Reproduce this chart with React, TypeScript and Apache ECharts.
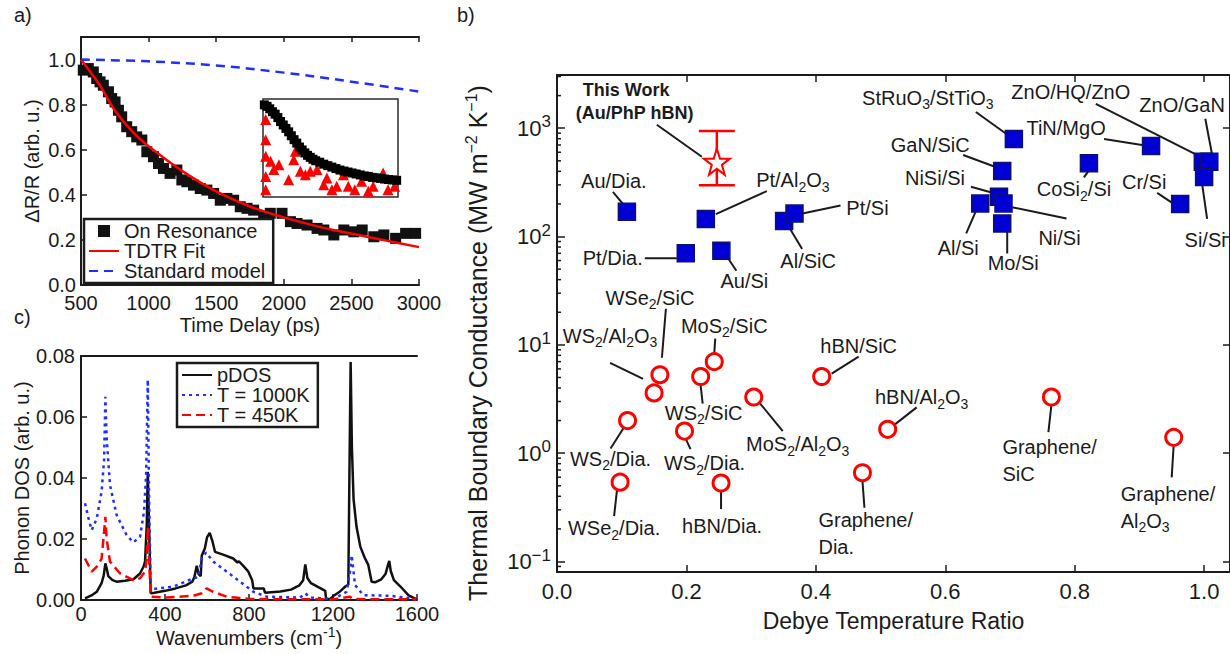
import React, { useEffect, useRef } from "react";
import * as echarts from "echarts";

const FONT = "'Liberation Sans', Arial, Helvetica, sans-serif";
const INK = "#1b1b1b";
const RED = "#ff0000";
const BLUE = "#1f2fff";

// ===== panel a : time-domain data =====
const TIME_PS = [517, 554, 591, 616, 641, 665, 703, 727, 752, 777, 801, 838, 875, 912, 950, 987, 1036, 1073, 1110, 1159, 1209, 1246, 1283, 1332, 1382, 1431, 1481, 1530, 1579, 1629, 1678, 1728, 1777, 1851, 1900, 1987, 2049, 2098, 2172, 2246, 2296, 2370, 2444, 2518, 2580, 2666, 2740, 2827, 2901, 2975];
const ON_RESONANCE = [0.953, 0.96, 0.945, 0.916, 0.901, 0.886, 0.857, 0.827, 0.812, 0.775, 0.746, 0.702, 0.68, 0.657, 0.643, 0.591, 0.569, 0.539, 0.517, 0.495, 0.51, 0.466, 0.458, 0.443, 0.428, 0.421, 0.406, 0.376, 0.384, 0.376, 0.347, 0.34, 0.332, 0.303, 0.318, 0.318, 0.281, 0.273, 0.266, 0.251, 0.244, 0.222, 0.244, 0.236, 0.244, 0.214, 0.222, 0.207, 0.229, 0.229];
const FIT_PS = [500, 640, 750, 880, 1000, 1250, 1500, 1750, 2000, 2250, 2500, 2750, 3000];
const FIT_DR = [1.0, 0.885, 0.775, 0.68, 0.615, 0.505, 0.415, 0.348, 0.3, 0.26, 0.228, 0.198, 0.168];
const STD_PS = [500, 1000, 1500, 2000, 2500, 3000];
const STD_DR = [1.0, 0.992, 0.974, 0.942, 0.902, 0.858];
const TIME_AXIS = { min: 500, max: 3000, step: 500 };
const DR_AXIS = { min: 0, max: 1.1, step: 0.2 };

// inset (normalised units)
const INSET_T = [0.01, 0.03, 0.05, 0.07, 0.09, 0.11, 0.13, 0.15, 0.17, 0.19, 0.21, 0.23, 0.25, 0.27, 0.29, 0.31, 0.33, 0.35, 0.37, 0.39, 0.42, 0.45, 0.48, 0.51, 0.54, 0.57, 0.6, 0.63, 0.66, 0.69, 0.72, 0.75, 0.78, 0.81, 0.84, 0.87, 0.9, 0.93, 0.96, 0.99];
const INSET_ON = [0.94, 0.925, 0.9, 0.87, 0.845, 0.81, 0.77, 0.735, 0.7, 0.665, 0.625, 0.585, 0.55, 0.51, 0.48, 0.45, 0.425, 0.405, 0.385, 0.37, 0.355, 0.335, 0.32, 0.305, 0.29, 0.275, 0.265, 0.255, 0.245, 0.235, 0.225, 0.215, 0.21, 0.2, 0.195, 0.19, 0.183, 0.178, 0.174, 0.17];
const INSET_T_OFF = [0.02, 0.02, 0.02, 0.02, 0.02, 0.056, 0.08, 0.118, 0.19, 0.228, 0.24, 0.277, 0.314, 0.35, 0.4, 0.45, 0.473, 0.51, 0.546, 0.596, 0.632, 0.68, 0.73, 0.78, 0.816, 0.89, 0.926, 0.975];
const INSET_OFF = [0.79, 0.585, 0.415, 0.21, 0.075, 0.364, 0.28, 0.33, 0.177, 0.38, 0.466, 0.262, 0.228, 0.262, 0.28, 0.126, 0.194, 0.075, 0.109, 0.228, 0.109, 0.075, 0.16, 0.058, 0.109, 0.245, 0.075, 0.109];

// ===== panel c : phonon DOS =====
const WN_PDOS = [19, 50, 75, 98, 108, 116, 122, 130, 150, 170, 210, 250, 281, 298, 305, 313, 318, 324, 332, 350, 400, 450, 500, 530, 540, 551, 560, 570, 575, 590, 600, 613, 625, 638, 680, 725, 745, 752, 775, 797, 815, 821, 870, 876, 950, 1000, 1040, 1058, 1068, 1078, 1095, 1130, 1163, 1167, 1185, 1200, 1230, 1260, 1273, 1278, 1284, 1290, 1298, 1312, 1330, 1350, 1368, 1384, 1400, 1430, 1450, 1462, 1468, 1475, 1490, 1520, 1560, 1598];
const PDOS = [0.0005, 0.0015, 0.0027, 0.0055, 0.008, 0.012, 0.0105, 0.0078, 0.0065, 0.006, 0.0063, 0.0068, 0.0087, 0.011, 0.0126, 0.0245, 0.042, 0.0245, 0.0022, 0.0024, 0.003, 0.0038, 0.0048, 0.006, 0.0075, 0.0112, 0.0085, 0.0078, 0.0145, 0.017, 0.0205, 0.022, 0.0195, 0.0158, 0.0148, 0.0136, 0.0123, 0.0127, 0.011, 0.0093, 0.0065, 0.0038, 0.0038, 0.0024, 0.0028, 0.0034, 0.0048, 0.0065, 0.0117, 0.0072, 0.0055, 0.0042, 0.003, 0.0004, 0.0003, 0.0012, 0.0026, 0.0045, 0.005, 0.04, 0.078, 0.05, 0.033, 0.024, 0.0175, 0.014, 0.0115, 0.006, 0.0058, 0.0068, 0.0085, 0.0115, 0.0128, 0.0095, 0.0065, 0.0045, 0.0015, 0.0002];
const WN_1000K = [19, 35, 51, 75, 98, 110, 116, 122, 138, 170, 217, 249, 281, 300, 310, 318, 324, 332, 440, 535, 559, 575, 595, 630, 694, 757, 821, 884, 1043, 1068, 1090, 1202, 1265, 1281, 1289, 1305, 1344, 1471, 1598];
const DOS_1000K = [0.0317, 0.027, 0.0229, 0.0267, 0.0355, 0.046, 0.0666, 0.0535, 0.0377, 0.0278, 0.0213, 0.0189, 0.0207, 0.029, 0.041, 0.0722, 0.035, 0.0035, 0.0044, 0.0071, 0.0075, 0.0136, 0.0156, 0.0126, 0.0093, 0.006, 0.0027, 0.0011, 0.0008, 0.0022, 0.0008, 0.0003, 0.0027, 0.0093, 0.0147, 0.0049, 0.0016, 0.0014, 0.0003];
const WN_450K = [19, 51, 83, 98, 110, 116, 122, 138, 186, 249, 281, 305, 313, 318, 324, 332, 408, 535, 575, 598, 630, 694, 805, 1202, 1281, 1297, 1598];
const DOS_450K = [0.0136, 0.0093, 0.0115, 0.0136, 0.0224, 0.0273, 0.0202, 0.0126, 0.0087, 0.0065, 0.0071, 0.0093, 0.0136, 0.024, 0.0136, 0.0011, 0.0008, 0.0014, 0.0022, 0.0038, 0.0027, 0.0011, 0.0003, 0.0002, 0.0011, 0.0003, 0.0002];
const WN_AXIS = { min: 0, max: 1600, step: 400 };
const DOS_AXIS = { min: 0, max: 0.08, step: 0.02 };

// ===== panel b : thermal boundary conductance =====
const METAL_NAMES = ["Au/Dia.", "Pt/Al_2O_3", "Pt/Dia.", "Au/Si", "Al/SiC", "Pt/Si", "GaN/SiC", "StRuO_3/StTiO_3", "NiSi/Si", "Ni/Si", "Al/Si", "Mo/Si", "CoSi_2/Si", "TiN/MgO", "Cr/Si", "ZnO/HQ/ZnO", "ZnO/GaN", "Si/Si"];
const METAL_RATIO = [0.108, 0.23, 0.199, 0.254, 0.351, 0.367, 0.688, 0.706, 0.683, 0.69, 0.654, 0.688, 0.822, 0.918, 0.963, 0.998, 1.008, 1.0];
const METAL_TBC = [169, 145, 70, 74, 139, 163, 403, 796, 233, 202, 202, 132, 474, 685, 200, 490, 490, 355];
const VDW_NAMES = ["WSe_2/SiC", "WS_2/Al_2O_3", "MoS_2/SiC", "WS_2/SiC", "MoS_2/Al_2O_3", "hBN/SiC", "hBN/Al_2O_3", "WS_2/Dia.", "WS_2/Dia.", "WSe_2/Dia.", "hBN/Dia.", "Graphene/\nDia.", "Graphene/\nSiC", "Graphene/\nAl_2O_3"];
const VDW_RATIO = [0.159, 0.15, 0.243, 0.222, 0.304, 0.409, 0.511, 0.109, 0.197, 0.0975, 0.2535, 0.472, 0.764, 0.953];
const VDW_TBC = [5.3, 3.6, 7.0, 5.1, 3.3, 5.1, 1.66, 2.0, 1.6, 0.54, 0.53, 0.66, 3.3, 1.4];
const WORK_RATIO = [0.247];
const WORK_TBC = [490];
const WORK_LOW = [298];
const WORK_HIGH = [945];
const RATIO_AXIS = { min: 0, max: 1.04, step: 0.2 };
const TBC_AXIS = { min: 0.08, max: 3100 };
const LOG_MINOR_STEPS = [2, 3, 4, 5, 6, 7, 8, 9];
const LOG_DECADES = [-2, -1, 0, 1, 2, 3];

// label placement (pixel offsets from the marker: text centre d, align a, leader line l)
const METAL_LAYOUT = [
  { d: [-13, -31], l: [-14, -20, -4, -8] },
  { d: [87, -39], l: [10, -5, 61, -28] },
  { d: [-43, 5], a: "right", l: [-41, 5, -9, 5] },
  { d: [23, 30], l: [7, 8, 15, 20] },
  { d: [24, 40], l: [6, 8, 18, 28] },
  { d: [73, -6], l: [8, 0, 46, -8] },
  { d: [-72, -26], l: [-39, -16, -4, -3] },
  { d: [-86, -41], l: [-38, -27, -6, -4] },
  { d: [-64, -19], l: [-28, -10, -3, -3] },
  { d: [56, 35], l: [0, 2, 63, 15] },
  { d: [-22, 45], l: [-4, 7, -14, 30] },
  { d: [11, 40], l: [5, 7, 5, 30] },
  { d: [-15, 26], l: [0, 7, -5, 14] },
  { d: [-85, -18], l: [-47, -7, -9, -1] },
  { d: [-36, -22], l: [-23, -11, -8, -1] },
  { d: [-132, -70], l: [-107, -58, -8, -8] },
  { d: [-70, -57], a: "left", l: [-4, -43, 3, -6] },
  { d: [1, 63], l: [-2, 7, 3, 42] },
];
const VDW_LAYOUT = [
  { d: [-10, -77], l: [6, -66, 2, -17] },
  { d: [-44, -57], l: [-44, -30, -11, -14] },
  { d: [10, -36], l: [1, -23, 0, -8] },
  { d: [3, 36], l: [0, 9, 2, 27] },
  { d: [44, 47], l: [6, 6, 29, 34] },
  { d: [37, -31], l: [10, -3, 37, -20] },
  { d: [34, -32], l: [6, -4, 29, -22] },
  { d: [-17, 38], l: [-3, 6, -17, 28] },
  { d: [20, 32], l: [1, 7, 6, 18] },
  { d: [-6, 46], l: [-3, 7, -6, 34] },
  { d: [1, 43], l: [0, 7, 0, 26] },
  { d: [-44, 61], a: "left", l: [0, 8, 2, 35] },
  { d: [-49, 63], a: "left", l: [0, 8, -3, 35] },
  { d: [-53, 70], a: "left", l: [0, 7, -2, 40] },
];

const STAR = "path://M50 0 L61.8 35.1 L98.6 35.1 L68.9 57.3 L79.4 92.7 L50 71 L20.6 92.7 L31.1 57.3 L1.4 35.1 L38.2 35.1 Z";

const pairs = (xs: number[], ys: number[]) => xs.map((x, i) => [x, ys[i]]);

const richLabel = (s: string) =>
  s
    .split("\n")
    .map((line) =>
      line
        .split(/(_\d)/)
        .filter((t) => t.length > 0)
        .map((t) => (t.startsWith("_") ? `{s|${t.slice(1)}}` : `{n|${t}}`))
        .join("")
    )
    .join("\n");

const LABEL_RICH = {
  n: { fontSize: 20, lineHeight: 27, fontFamily: FONT, fill: INK, color: INK },
  s: { fontSize: 14, lineHeight: 12, verticalAlign: "bottom", fontFamily: FONT, fill: INK, color: INK },
};

const spine = { show: true, onZero: false, lineStyle: { color: INK, width: 2 } };
const tickIn = (len: number) => ({ show: true, inside: true, length: len, lineStyle: { color: INK, width: 1.5 } });
const plain = (v: number) => String(v);
const lbl = (size: number, margin: number, fmt: any = plain) => ({
  fontSize: size, margin, color: INK, fontFamily: FONT, lineHeight: 18, formatter: fmt,
});

function annotationSeries(ratios: number[], tbcs: number[], names: string[], layout: any[]) {
  return {
    type: "custom",
    xAxisIndex: 4,
    yAxisIndex: 2,
    z: 2,
    silent: true,
    data: pairs(ratios, tbcs),
    encode: { x: 0, y: 1 },
    renderItem: (params: any, api: any) => {
      const i = params.dataIndex;
      const L = layout[i];
      const p = api.coord([api.value(0), api.value(1)]);
      return {
        type: "group",
        children: [
          {
            type: "line",
            shape: { x1: p[0] + L.l[0], y1: p[1] + L.l[1], x2: p[0] + L.l[2], y2: p[1] + L.l[3] },
            style: { stroke: INK, lineWidth: 2 },
          },
          {
            type: "text",
            x: p[0] + L.d[0],
            y: p[1] + L.d[1],
            style: {
              text: richLabel(names[i]),
              rich: LABEL_RICH,
              align: L.a || "center",
              verticalAlign: "middle",
              fill: INK,
              fontSize: 20,
              fontFamily: FONT,
            },
          },
        ],
      };
    },
  };
}

export default function App() {
  const ref = useRef<HTMLDivElement>(null);

  useEffect(() => {
    if (!ref.current) return;
    const chart = echarts.init(ref.current, null, { renderer: "svg" });

    const minorVals = LOG_DECADES.flatMap((d) => LOG_MINOR_STEPS.map((m) => m * Math.pow(10, d))).filter(
      (v) => v > TBC_AXIS.min && v < TBC_AXIS.max
    );

    const logFmt = (v: number) => {
      const e = Math.log10(v);
      const r = Math.round(e);
      if (Math.abs(e - r) > 1e-6) return "";
      return `{b|10}{p|${r < 0 ? "\u2212" + -r : r}}`;
    };

    const legendBase = {
      orient: "vertical", itemGap: 0, itemWidth: 30, itemHeight: 12,
      padding: [2, 8, 2, 4], borderColor: INK, borderWidth: 2.5, backgroundColor: "#ffffff",
      textStyle: { fontSize: 20, lineHeight: 19, color: INK, fontFamily: FONT },
      selectedMode: false, symbolKeepAspect: true,
      itemStyle: { opacity: 0 },
    };

    const option: any = {
      animation: false,
      backgroundColor: "#ffffff",
      textStyle: { fontFamily: FONT, color: INK },
      grid: [
        { left: 81, top: 37, width: 338, height: 248 },
        { left: 81, top: 356, width: 336, height: 244 },
        { left: 557, top: 75, width: 674, height: 497 },
        { left: 263, top: 99, width: 135, height: 98, show: true, borderColor: "#2a2a2a", borderWidth: 1.5, backgroundColor: "#ffffff" },
      ],
      xAxis: [
        {
          gridIndex: 0, type: "value", min: TIME_AXIS.min, max: TIME_AXIS.max, interval: TIME_AXIS.step,
          axisLine: spine, axisTick: tickIn(6), splitLine: { show: false },
          axisLabel: lbl(20, 9),
          name: "Time Delay (ps)", nameLocation: "middle", nameGap: 30,
          nameTextStyle: { fontSize: 20, color: INK, fontFamily: FONT },
        },
        {
          gridIndex: 0, type: "value", position: "top", min: TIME_AXIS.min, max: TIME_AXIS.max, interval: TIME_AXIS.step,
          axisLine: spine, axisTick: tickIn(5), axisLabel: { show: false }, splitLine: { show: false },
        },
        {
          gridIndex: 1, type: "value", min: WN_AXIS.min, max: WN_AXIS.max, interval: WN_AXIS.step,
          axisLine: spine, axisTick: tickIn(6), splitLine: { show: false },
          axisLabel: lbl(20, 5),
          name: "{n|Wavenumbers (cm}{p|-1}{n|)}", nameLocation: "middle", nameGap: 24,
          nameTextStyle: {
            rich: {
              n: { fontSize: 20, lineHeight: 26, color: INK, fontFamily: FONT },
              p: { fontSize: 14, lineHeight: 12, verticalAlign: "top", color: INK, fontFamily: FONT },
            },
          },
        },
        {
          gridIndex: 1, type: "value", position: "top", min: WN_AXIS.min, max: WN_AXIS.max,
          axisLine: spine, axisTick: { show: false }, axisLabel: { show: false }, splitLine: { show: false },
        },
        {
          gridIndex: 2, type: "value", min: RATIO_AXIS.min, max: RATIO_AXIS.max, interval: RATIO_AXIS.step,
          axisLine: spine, axisTick: tickIn(7), splitLine: { show: false },
          axisLabel: { ...lbl(22, 10, (v: number) => v.toFixed(1)), showMaxLabel: false },
          name: "Debye Temperature Ratio", nameLocation: "middle", nameGap: 37,
          nameTextStyle: { fontSize: 23, color: INK, fontFamily: FONT },
        },
        {
          gridIndex: 2, type: "value", position: "top", min: RATIO_AXIS.min, max: RATIO_AXIS.max, interval: RATIO_AXIS.step,
          axisLine: spine, axisTick: tickIn(7), axisLabel: { show: false }, splitLine: { show: false },
        },
        { gridIndex: 3, type: "value", min: 0, max: 1, show: false },
      ],
      yAxis: [
        {
          gridIndex: 0, type: "value", min: DR_AXIS.min, max: DR_AXIS.max, interval: DR_AXIS.step,
          axisLine: spine, axisTick: tickIn(6), splitLine: { show: false },
          axisLabel: { ...lbl(20, 5, (v: number) => v.toFixed(1)), showMaxLabel: false },
          name: "\u0394R/R (arb. u.)", nameLocation: "middle", nameGap: 39,
          nameTextStyle: { fontSize: 20, color: INK, fontFamily: FONT },
        },
        {
          gridIndex: 1, type: "value", min: DOS_AXIS.min, max: DOS_AXIS.max, interval: DOS_AXIS.step,
          axisLine: spine, axisTick: tickIn(6), splitLine: { show: false },
          axisLabel: lbl(20, 6, (v: number) => v.toFixed(2)),
          name: "Phonon DOS (arb. u.)", nameLocation: "middle", nameGap: 47,
          nameTextStyle: { fontSize: 20, color: INK, fontFamily: FONT },
        },
        {
          gridIndex: 2, type: "log", logBase: 10, min: TBC_AXIS.min, max: TBC_AXIS.max,
          axisLine: spine, axisTick: tickIn(8), splitLine: { show: false }, minorTick: { show: false },
          axisLabel: {
            fontSize: 22, margin: 6, color: INK, formatter: logFmt,
            rich: {
              b: { fontSize: 22, lineHeight: 30, color: INK, fontFamily: FONT },
              p: { fontSize: 17, lineHeight: 14, verticalAlign: "top", color: INK, fontFamily: FONT },
            },
          },
        },
        {
          gridIndex: 2, type: "log", logBase: 10, position: "right", min: TBC_AXIS.min, max: TBC_AXIS.max,
          axisLine: spine, axisTick: tickIn(7), axisLabel: { show: false }, splitLine: { show: false },
        },
        { gridIndex: 3, type: "value", min: 0, max: 1, show: false },
      ],
      legend: [
        {
          ...legendBase,
          data: [
            { name: "On Resonance", icon: "path://M0 0H10V10H0Z", itemStyle: { opacity: 1, color: "#111111" } },
            { name: "TDTR Fit" },
            { name: "Standard model" },
          ],
          left: 84, top: 219,
        },
        {
          ...legendBase,
          data: [{ name: "pDOS" }, { name: "T = 1000K" }, { name: "T = 450K" }],
          left: 177, top: 363,
        },
      ],
      graphic: [
        { type: "text", left: 14, top: 5, style: { text: "a)", fontSize: 20, fontFamily: FONT, fill: INK } },
        { type: "text", left: 14, top: 307, style: { text: "c)", fontSize: 20, fontFamily: FONT, fill: INK } },
        { type: "text", left: 457, top: 5, style: { text: "b)", fontSize: 20, fontFamily: FONT, fill: INK } },
        {
          type: "text", x: 478, y: 343, rotation: Math.PI / 2,
          style: {
            text: "{n|Thermal Boundary Conductance (MW m}{p|\u22122}{n| K}{p|\u22121}{n|)}",
            align: "center", verticalAlign: "middle", fill: INK,
            rich: {
              n: { fontSize: 25, lineHeight: 30, fontFamily: FONT, fill: INK },
              p: { fontSize: 16, lineHeight: 14, verticalAlign: "top", fontFamily: FONT, fill: INK },
            },
          },
        },
      ],
      series: [
        // ---- panel a
        {
          name: "On Resonance", type: "scatter", xAxisIndex: 0, yAxisIndex: 0, symbol: "rect", symbolSize: 11,
          itemStyle: { color: "#111111", opacity: 1 }, data: pairs(TIME_PS, ON_RESONANCE), z: 2,
        },
        {
          name: "TDTR Fit", type: "line", xAxisIndex: 0, yAxisIndex: 0, smooth: 0.35, symbol: "none", showSymbol: false,
          lineStyle: { color: RED, width: 2.5 }, itemStyle: { color: RED }, data: pairs(FIT_PS, FIT_DR), z: 3,
        },
        {
          name: "Standard model", type: "line", xAxisIndex: 0, yAxisIndex: 0, smooth: 0.35, symbol: "none", showSymbol: false,
          lineStyle: { color: BLUE, width: 2.5, type: [9, 6] }, itemStyle: { color: BLUE }, data: pairs(STD_PS, STD_DR), z: 3,
        },
        // inset
        {
          type: "scatter", xAxisIndex: 6, yAxisIndex: 4, symbol: "triangle", symbolSize: 11, clip: true,
          itemStyle: { color: RED, opacity: 1 }, data: pairs(INSET_T_OFF, INSET_OFF), z: 4, silent: true,
        },
        {
          type: "scatter", xAxisIndex: 6, yAxisIndex: 4, symbol: "rect", symbolSize: 9, clip: true,
          itemStyle: { color: "#000000", opacity: 1 }, data: pairs(INSET_T, INSET_ON), z: 5, silent: true,
        },
        // ---- panel c
        {
          name: "pDOS", type: "line", xAxisIndex: 2, yAxisIndex: 1, symbol: "none", showSymbol: false,
          lineStyle: { color: "#111111", width: 2.5 }, itemStyle: { color: "#111111" }, data: pairs(WN_PDOS, PDOS), z: 2,
        },
        {
          name: "T = 1000K", type: "line", xAxisIndex: 2, yAxisIndex: 1, symbol: "none", showSymbol: false,
          lineStyle: { color: BLUE, width: 2.5, type: [3, 4] }, itemStyle: { color: BLUE }, data: pairs(WN_1000K, DOS_1000K), z: 3,
        },
        {
          name: "T = 450K", type: "line", xAxisIndex: 2, yAxisIndex: 1, symbol: "none", showSymbol: false,
          lineStyle: { color: RED, width: 2.5, type: [9, 5] }, itemStyle: { color: RED }, data: pairs(WN_450K, DOS_450K), z: 4,
        },
        // ---- panel b
        {
          type: "custom", xAxisIndex: 4, yAxisIndex: 2, silent: true, z: 1,
          data: minorVals.map((v) => [RATIO_AXIS.min, v]), encode: { x: 0, y: 1 },
          renderItem: (params: any, api: any) => {
            const p = api.coord([api.value(0), api.value(1)]);
            return { type: "line", shape: { x1: p[0], y1: p[1], x2: p[0] + 4, y2: p[1] }, style: { stroke: INK, lineWidth: 1.5 } };
          },
        },
        annotationSeries(METAL_RATIO, METAL_TBC, METAL_NAMES, METAL_LAYOUT),
        annotationSeries(VDW_RATIO, VDW_TBC, VDW_NAMES, VDW_LAYOUT),
        {
          type: "custom", xAxisIndex: 4, yAxisIndex: 2, silent: true, z: 2,
          data: pairs(WORK_RATIO, WORK_TBC), encode: { x: 0, y: 1 },
          renderItem: (params: any, api: any) => {
            const p = api.coord([api.value(0), api.value(1)]);
            return {
              type: "group",
              children: [
                { type: "line", shape: { x1: p[0] - 60, y1: p[1] - 37, x2: p[0] - 15, y2: p[1] - 5 }, style: { stroke: INK, lineWidth: 2 } },
                { type: "text", x: p[0] - 134, y: p[1] - 72, style: { text: "This Work", fontSize: 18, fontWeight: "bold", fontFamily: FONT, fill: INK, align: "left", verticalAlign: "middle" } },
                { type: "text", x: p[0] - 141, y: p[1] - 49, style: { text: "(Au/PhP hBN)", fontSize: 18, fontWeight: "bold", fontFamily: FONT, fill: INK, align: "left", verticalAlign: "middle" } },
              ],
            };
          },
        },
        {
          type: "custom", xAxisIndex: 4, yAxisIndex: 2, silent: true, z: 3,
          data: WORK_RATIO.map((r, i) => [r, WORK_LOW[i], WORK_HIGH[i]]), encode: { x: 0, y: [1, 2] },
          renderItem: (params: any, api: any) => {
            const lo = api.coord([api.value(0), api.value(1)]);
            const hi = api.coord([api.value(0), api.value(2)]);
            const st = { stroke: RED, lineWidth: 2.5 };
            return {
              type: "group",
              children: [
                { type: "line", shape: { x1: lo[0], y1: lo[1], x2: hi[0], y2: hi[1] }, style: st },
                { type: "line", shape: { x1: lo[0] - 18, y1: lo[1], x2: lo[0] + 18, y2: lo[1] }, style: st },
                { type: "line", shape: { x1: hi[0] - 18, y1: hi[1], x2: hi[0] + 18, y2: hi[1] }, style: st },
              ],
            };
          },
        },
        {
          type: "scatter", xAxisIndex: 4, yAxisIndex: 2, symbol: "rect", symbolSize: 17, silent: true,
          itemStyle: { color: "#0000d4", borderColor: "#10106e", borderWidth: 1.5, opacity: 1 }, data: pairs(METAL_RATIO, METAL_TBC), z: 4,
        },
        {
          type: "scatter", xAxisIndex: 4, yAxisIndex: 2, symbol: "circle", symbolSize: 16, silent: true,
          itemStyle: { color: "#ffffff", borderColor: RED, borderWidth: 3, opacity: 1 }, data: pairs(VDW_RATIO, VDW_TBC), z: 4,
        },
        {
          type: "scatter", xAxisIndex: 4, yAxisIndex: 2, symbol: STAR, symbolSize: 26, silent: true,
          itemStyle: { color: "#ffffff", borderColor: RED, borderWidth: 2, opacity: 1 }, data: pairs(WORK_RATIO, WORK_TBC), z: 5,
        },
      ],
    };

    chart.setOption(option);
    return () => chart.dispose();
  }, []);

  return (
    <div
      ref={ref}
      style={{ position: "fixed", left: 0, top: 0, width: 1230, height: 654, background: "#ffffff" }}
    />
  );
}
